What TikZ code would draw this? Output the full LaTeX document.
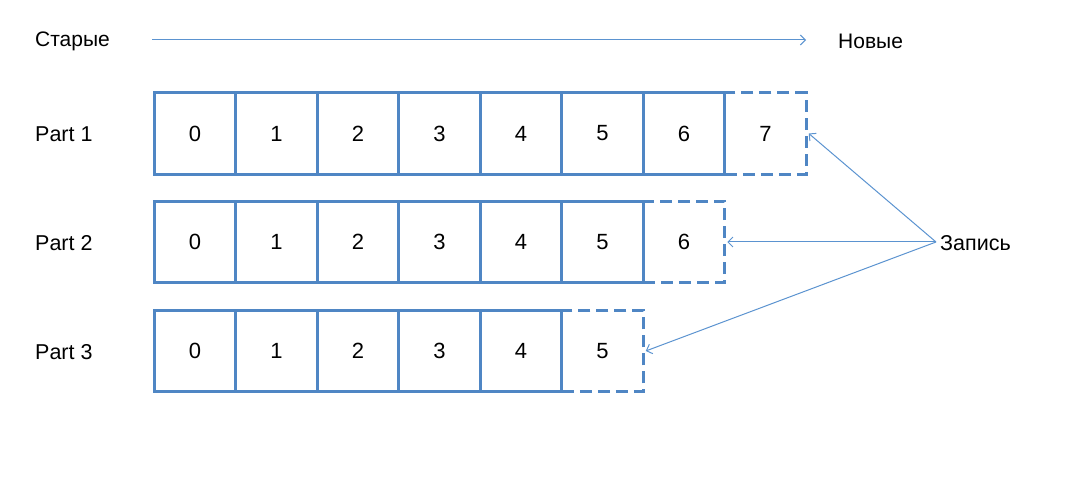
\documentclass[tikz,border=0pt]{standalone}
\usepackage{fontspec}
\setmainfont{Liberation Sans}
\usetikzlibrary{arrows.meta}
\definecolor{boxblue}{HTML}{4F86C4}
\definecolor{arrblue}{HTML}{5B93D0}
\tikzset{
  cell/.style={draw=boxblue, line width=3pt, minimum width=81.5pt, minimum height=81.5pt, inner sep=0pt, font=\fontsize{22}{24}\selectfont},
  newcell/.style={cell, dashed, dash pattern=on 12pt off 6pt},
  lbl/.style={font=\fontsize{21}{24}\selectfont, inner sep=0pt},
  rlbl/.style={font=\fontsize{21.5}{24}\selectfont, inner sep=0pt},
  arr/.style={draw=arrblue, line width=1pt, -{Straight Barb[length=5pt,width=10pt]}}
}
\begin{document}
\begin{tikzpicture}[x=1pt,y=-1pt]
\useasboundingbox (0,0) rectangle (1084,494);
% header
\node[lbl, anchor=west] (old) at (35,41) {Старые};
\node[lbl, anchor=west] (new) at (838,41) {Новые};
\coordinate (hs) at (152,40);
\coordinate (he) at (806,40);
\draw[arr] (hs) -- (he);
% row labels
\node[rlbl, anchor=west] (p1) at (35,134) {Part 1};
\node[rlbl, anchor=west] (p2) at (35,243) {Part 2};
\node[rlbl, anchor=west] (p3) at (35,352) {Part 3};
% row 1
\foreach \i in {0,...,6} {
  \node[cell] (ra\i) at (195+81.5*\i,133.5) {\i};
}
\node[newcell] (ra7) at (195+81.5*7,133.5) {7};
% row 2
\foreach \i in {0,...,5} {
  \node[cell] (rb\i) at (195+81.5*\i,242) {\i};
}
\node[newcell] (rb6) at (195+81.5*6,242) {6};
% row 3
\foreach \i in {0,...,4} {
  \node[cell] (rc\i) at (195+81.5*\i,351) {\i};
}
\node[newcell] (rc5) at (195+81.5*5,351) {5};
% write label
\node[rlbl, anchor=west] (zap) at (940,243) {Запись};
\coordinate (zp) at (936,242);
\draw[arr] (zp) -- ([xshift=1pt]ra7.east);
\draw[arr] (zp) -- ([xshift=1pt]rb6.east);
\draw[arr] (zp) -- ([xshift=1pt]rc5.east);
\end{tikzpicture}
\end{document}
